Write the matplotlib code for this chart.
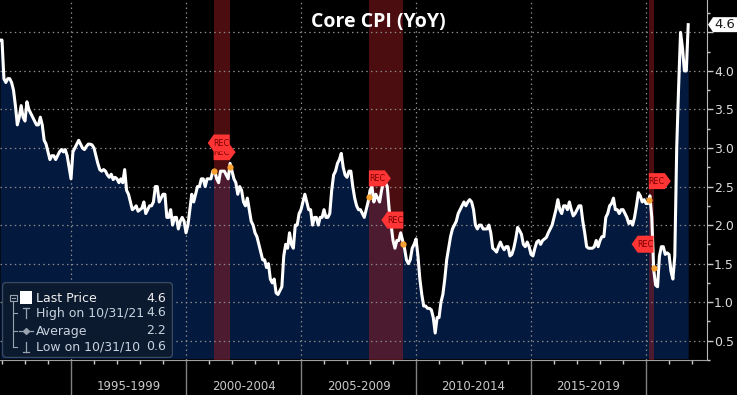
import numpy as np
import matplotlib
matplotlib.use("Agg")
import matplotlib.pyplot as plt
import matplotlib.transforms as mtrans
from matplotlib.patches import Polygon, FancyBboxPatch, Rectangle

# Core CPI YoY (%), monthly, Nov 1991 - Oct 2021
core_1991_1994 = [4.4, 4.4,
                  3.9, 3.85, 3.9, 3.9, 3.85, 3.75, 3.55, 3.3, 3.4, 3.55, 3.4, 3.35,
                  3.6, 3.5, 3.45, 3.4, 3.35, 3.3, 3.3, 3.4, 3.3, 3.1, 3.05, 2.95,
                  2.85, 2.9, 2.9, 2.85, 2.9, 2.95, 2.98, 2.95, 2.98, 2.9, 2.75, 2.6]
core_1995_1999 = [2.95, 3.0, 3.05, 3.1, 3.05, 3.0, 2.98, 3.02, 3.05, 3.05, 3.04, 3.0,
                  2.9, 2.8, 2.72, 2.7, 2.72, 2.7, 2.65, 2.62, 2.66, 2.59, 2.62, 2.6,
                  2.55, 2.6, 2.55, 2.72, 2.45, 2.4, 2.3, 2.2, 2.22, 2.25, 2.18, 2.2,
                  2.22, 2.3, 2.15, 2.2, 2.25, 2.25, 2.3, 2.5, 2.5, 2.3, 2.35, 2.4,
                  2.4, 2.1, 2.1, 2.2, 2.0, 2.1, 2.1, 1.95, 2.05, 2.1, 2.05, 1.9]
core_2000_2004 = [2.0, 2.2, 2.4, 2.3, 2.4, 2.5, 2.5, 2.6, 2.6, 2.5, 2.6, 2.6,
                  2.6, 2.7, 2.7, 2.6, 2.55, 2.7, 2.7, 2.7, 2.65, 2.6, 2.8, 2.7,
                  2.6, 2.55, 2.4, 2.5, 2.45, 2.3, 2.25, 2.35, 2.2, 2.05, 2.0, 1.9,
                  1.85, 1.75, 1.65, 1.55, 1.55, 1.45, 1.5, 1.3, 1.25, 1.3, 1.12, 1.1,
                  1.15, 1.2, 1.6, 1.75, 1.7, 1.9, 1.75, 1.7, 2.0, 2.0, 2.15, 2.2]
core_2005_2009 = [2.3, 2.4, 2.3, 2.2, 2.2, 2.0, 2.1, 2.1, 2.0, 2.1, 2.1, 2.2,
                  2.1, 2.1, 2.15, 2.45, 2.65, 2.7, 2.8, 2.85, 2.93, 2.75, 2.65, 2.62,
                  2.7, 2.7, 2.5, 2.35, 2.25, 2.2, 2.2, 2.15, 2.1, 2.2, 2.3, 2.45,
                  2.5, 2.3, 2.4, 2.35, 2.3, 2.45, 2.55, 2.55, 2.5, 2.2, 2.0, 1.8,
                  1.7, 1.8, 1.8, 1.9, 1.8, 1.7, 1.55, 1.5, 1.55, 1.7, 1.75, 1.82]
core_2010_2014 = [1.6, 1.3, 1.1, 0.95, 0.95, 0.92, 0.92, 0.9, 0.8, 0.6, 0.8, 0.8,
                  1.0, 1.1, 1.3, 1.55, 1.7, 1.85, 1.95, 2.0, 2.05, 2.15, 2.2, 2.25,
                  2.3, 2.25, 2.3, 2.33, 2.3, 2.2, 2.0, 1.95, 2.0, 2.0, 1.95, 1.95,
                  1.95, 2.0, 1.9, 1.7, 1.68, 1.65, 1.72, 1.78, 1.72, 1.68, 1.72, 1.72,
                  1.6, 1.62, 1.7, 1.82, 1.97, 1.93, 1.88, 1.75, 1.72, 1.78, 1.72, 1.62]
core_2015_2019 = [1.6, 1.7, 1.78, 1.8, 1.75, 1.8, 1.82, 1.84, 1.9, 1.95, 2.0, 2.1,
                  2.2, 2.33, 2.2, 2.15, 2.25, 2.25, 2.2, 2.3, 2.2, 2.12, 2.15, 2.2,
                  2.25, 2.25, 2.05, 1.9, 1.72, 1.7, 1.7, 1.7, 1.72, 1.8, 1.72, 1.8,
                  1.85, 1.85, 2.1, 2.15, 2.25, 2.28, 2.35, 2.2, 2.2, 2.15, 2.2, 2.2,
                  2.15, 2.1, 2.02, 2.05, 2.0, 2.1, 2.25, 2.42, 2.38, 2.3, 2.33, 2.28]
core_2020_2021 = [2.28, 2.38, 2.1, 1.42, 1.22, 1.2, 1.6, 1.72, 1.72, 1.62, 1.64, 1.62,
                  1.4, 1.3, 1.6, 3.0, 3.8, 4.5, 4.3, 4.0, 4.0, 4.6]

rec_start = [2001.2, 2007.95, 2020.12]
rec_end = [2001.9, 2009.45, 2020.33]

period_edges = [1995, 2000, 2005, 2010, 2015, 2020]
period_labels = ["1995-1999", "2000-2004", "2005-2009", "2010-2014", "2015-2019"]
y_ticks = [0.5, 1.0, 1.5, 2.0, 2.5, 3.0, 3.5, 4.0, 4.5]

legend_names = ["Last Price", "High on 10/31/21", "Average", "Low on 10/31/10"]
legend_vals = ["4.6", "4.6", "2.2", "0.6"]
last_price = 4.6

cpi = np.array(core_1991_1994 + core_1995_1999 + core_2000_2004 + core_2005_2009
               + core_2010_2014 + core_2015_2019 + core_2020_2021)
t = 1991 + 11 / 12 + np.arange(len(cpi)) / 12  # month-end dates as decimal years

W, H = 737, 395
fig = plt.figure(figsize=(W / 100, H / 100), dpi=100, facecolor="black")
ax = fig.add_axes([0, 35 / H, 707 / W, 360 / H])
ax.set_facecolor("black")
ymin, ymax = 0.27, 4.92
ax.set_xlim(1991.913, 2022.65)
ax.set_ylim(ymin, ymax)

navy = "#03193d"
ax.fill_between(t, cpi, ymin, color=navy, lw=0, zorder=1)

for s, e in zip(rec_start, rec_end):
    ax.axvspan(s, e, color="#a81e22", alpha=0.45, lw=0, zorder=1.5)

# dotted grid
for y in y_ticks:
    ax.axhline(y, color="#8a8a8a", lw=0.9, ls=(0, (1.2, 2.6)), zorder=2)
for x in period_edges:
    ax.axvline(x, color="#8a8a8a", lw=0.9, ls=(0, (1.2, 2.6)), zorder=2)

ax.plot(t, cpi, color="white", lw=2.2, zorder=3, solid_joinstyle="round")

# axes styling
for side in ["left", "top"]:
    ax.spines[side].set_visible(False)
ax.spines["right"].set_color("#b8b8b8")
ax.spines["bottom"].set_color("#a0a0a0")
ax.yaxis.tick_right()
ax.set_yticks(y_ticks)
# the 4.5 label sits under the last-price tag
ax.set_yticklabels(["" if v == 4.5 else f"{v:.1f}" for v in y_ticks])
ax.set_yticks(np.arange(0.25, 4.9, 0.25), minor=True)
ax.tick_params(axis="y", which="major", direction="out", length=4, width=1,
               color="#c8c8c8", labelcolor="#dcdcdc", labelsize=9, pad=1)
ax.tick_params(axis="y", which="minor", direction="out", length=2.5, width=1,
               color="#c8c8c8")
ax.set_xticks(period_edges)
ax.set_xticks(np.arange(1992, 2023), minor=True)
ax.tick_params(axis="x", which="major", direction="out", length=25.5, width=1,
               color="#808080", labelbottom=False)
ax.tick_params(axis="x", which="minor", direction="out", length=3, width=1,
               color="#c8c8c8")

xt = mtrans.blended_transform_factory(ax.transData, ax.transAxes)
for a, b, lab in zip(period_edges[:-1], period_edges[1:], period_labels):
    ax.text((a + b) / 2, -26 / 360, lab, transform=xt, ha="center", va="center",
            color="#c8c8c8", fontsize=8.5, clip_on=False)


def tag(x, y, dx, dy, w, tip, h, pointing, face, text, tcolor, fs, z,
        trans=ax.transData):
    # pentagon label anchored at data point, offsets in pixels
    tr = fig.dpi_scale_trans + mtrans.ScaledTranslation(x, y, trans)
    if pointing == "right":
        pts = [(0, 0), (w, 0), (w + tip, h / 2), (w, h), (0, h)]
        cx = w / 2
    else:
        pts = [(tip, 0), (tip + w, 0), (tip + w, h), (tip, h), (0, h / 2)]
        cx = tip + w / 2
    pts = [((px + dx) / 100, (py + dy) / 100) for px, py in pts]
    ax.add_patch(Polygon(pts, closed=True, facecolor=face, edgecolor="none",
                         transform=tr, zorder=z, clip_on=False))
    ax.text((cx + dx) / 100, (h / 2 + dy) / 100, text, transform=tr, ha="center",
            va="center", color=tcolor, fontsize=fs, zorder=z + 0.1, clip_on=False)


rec_red = "#ff3535"
for s in rec_start:
    v = np.interp(s, t, cpi)
    ax.plot(s, v, "o", ms=4.5, color="#f5a030", mec="none", zorder=4)
    tag(s, v, 0, 11, 16, 6, 16, "right", rec_red, "REC", "#7a0000", 5.8, 6)
for e in rec_end:
    v = np.interp(e, t, cpi)
    ax.plot(e, v, "o", ms=4.5, color="#f5a030", mec="none", zorder=4)
    tag(e, v, -22, 15, 16, 6, 17, "left", rec_red, "REC", "#7a0000", 5.8, 7)

# last price tag on right axis
yt = mtrans.blended_transform_factory(ax.transAxes, ax.transData)
tag(1.0, last_price, 1, -7.5, 24, 5, 15, "left", "white", f"{last_price:.1f}",
    "#1a1a1a", 9.5, 8, trans=yt)

fig.text(378 / W, 1 - 22 / H, "Core CPI (YoY)", color="white", fontsize=14,
         fontweight="bold", family="Open Sans", ha="center", va="center")

# legend panel
lg = fig.add_axes([2 / W, 1 - 358 / H, 171 / W, 76 / H])
lg.set_xlim(0, 171)
lg.set_ylim(76, 0)
lg.axis("off")
lg.add_patch(FancyBboxPatch((0.5, 0.5), 170, 75, boxstyle="round,pad=0,rounding_size=4",
                            facecolor="#0c1a30", edgecolor="#3a4a60", lw=1))
rows = [16, 31, 49, 65]
gray = "#9aa4b0"
lg.plot([11, 11], [20, 65], color=gray, lw=0.8)
for r in rows[1:]:
    lg.plot([11, 15], [r, r], color=gray, lw=0.8)
lg.add_patch(Rectangle((8, 12.5), 6.5, 6.5, facecolor="none", edgecolor=gray, lw=0.8))
lg.plot([9.5, 13], [15.8, 15.8], color=gray, lw=0.8)
lg.add_patch(Rectangle((18, 9), 12, 13, facecolor="white", edgecolor="none"))
lg.plot([24, 24], [26, 36], color=gray, lw=0.9)
lg.plot([21, 27], [26, 26], color=gray, lw=0.9)
lg.plot([17, 31], [49, 49], color=gray, lw=0.9)
lg.plot(24, 49, marker="D", ms=3, color=gray)
lg.plot([24, 24], [60, 70], color=gray, lw=0.9)
lg.plot([21, 27], [70, 70], color=gray, lw=0.9)
for i, (name, val) in enumerate(zip(legend_names, legend_vals)):
    c = "#f0f0f0" if i == 0 else "#c8d2de"
    lg.text(34, rows[i], name, color=c, fontsize=9, ha="left", va="center")
    lg.text(164, rows[i], val, color=c, fontsize=9, ha="right", va="center")

fig.savefig("out.png", dpi=100, facecolor="black")
